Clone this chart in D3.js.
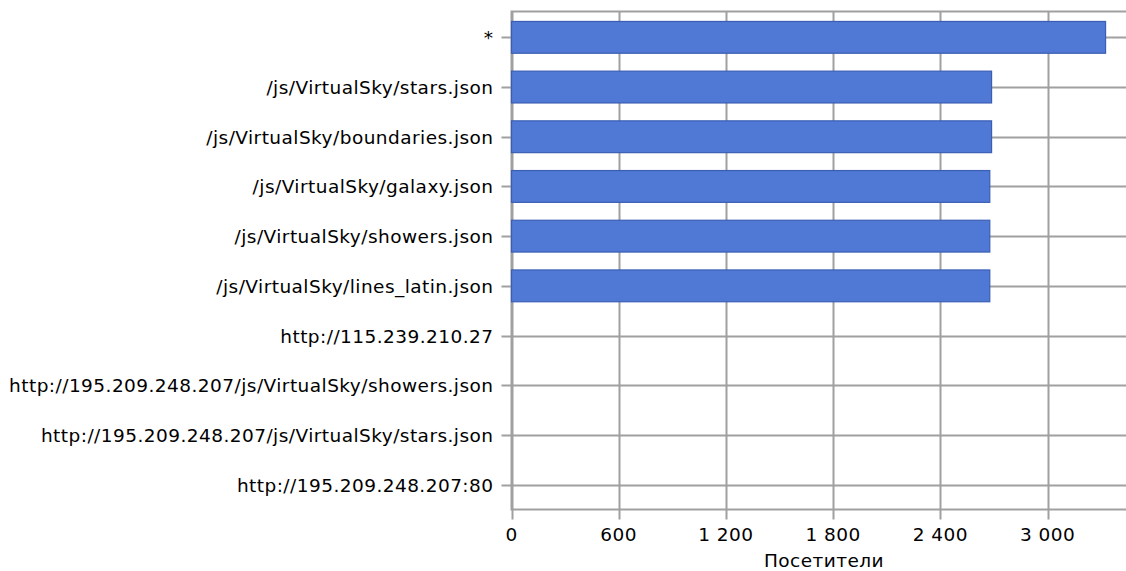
<!DOCTYPE html>
<html><head><meta charset="utf-8">
<script src="https://cdn.jsdelivr.net/npm/d3@7"></script>
<style>
body{margin:0;background:#fff;}
svg text{font-family:"DejaVu Sans",Verdana,sans-serif;fill:#000;}
</style></head>
<body><svg id="c" width="1126" height="571"></svg>
<script>
const categories = ["*","/js/VirtualSky/stars.json","/js/VirtualSky/boundaries.json","/js/VirtualSky/galaxy.json","/js/VirtualSky/showers.json","/js/VirtualSky/lines_latin.json","http://115.239.210.27","http://195.209.248.207/js/VirtualSky/showers.json","http://195.209.248.207/js/VirtualSky/stars.json","http://195.209.248.207:80"];
const values = [3325, 2687, 2687, 2677, 2677, 2677, 0, 0, 0, 0];
const xTicks = [0, 600, 1200, 1800, 2400, 3000];
const xTickLabels = ["0","600","1 200","1 800","2 400","3 000"];
const xTitle = "Посетители";

const svg = d3.select("#c");
const pLeft = 511.5, pTop = 12.5, pBottom = 509.5;
const x = d3.scaleLinear().domain([0, 3600]).range([pLeft, pLeft + 3600*107.2/600]);
const y = d3.scaleBand().domain(categories).range([pTop, pBottom]).paddingInner(0.36).paddingOuter(0.18);
const rowC = c => y(c) + y.bandwidth()/2;

svg.append("rect").attr("x", pLeft).attr("y", 11.5).attr("width", x(3600)-pLeft).attr("height", pBottom-11.5)
  .attr("fill","none").attr("stroke","#a0a0a0").attr("stroke-width",2);
svg.selectAll(".vg").data(xTicks).enter().append("line")
  .attr("x1", d=>Math.round(x(d))+0.5).attr("x2", d=>Math.round(x(d))+0.5)
  .attr("y1", 11.5).attr("y2", pBottom+10).attr("stroke","#a0a0a0").attr("stroke-width",2);
svg.selectAll(".hg").data(categories).enter().append("line")
  .attr("x1", pLeft-10).attr("x2", 1126)
  .attr("y1", d=>Math.round(rowC(d))+0.5).attr("y2", d=>Math.round(rowC(d))+0.5)
  .attr("stroke","#a0a0a0").attr("stroke-width",2);
svg.selectAll(".bar").data(categories.map((c,i)=>({c, v: values[i]})).filter(d=>d.v>0)).enter().append("rect")
  .attr("x", pLeft).attr("y", d=>y(d.c)).attr("width", d=>x(d.v)-pLeft).attr("height", y.bandwidth())
  .attr("fill","#4f79d5").attr("stroke","#3b5eb5").attr("stroke-width",1.2);
svg.selectAll(".yl").data(categories).enter().append("text")
  .attr("x", 493.5).attr("y", d=>rowC(d)+7).attr("text-anchor","end")
  .style("font-size","18.5px").style("letter-spacing","0.45px").text(d=>d);
svg.selectAll(".xl").data(xTicks).enter().append("text")
  .attr("x", d=>x(d)).attr("y", 541).attr("text-anchor","middle")
  .style("font-size","18.5px").style("letter-spacing","0.45px").text((d,i)=>xTickLabels[i]);
svg.append("text").attr("x", 824).attr("y", 567).attr("text-anchor","middle")
  .style("font-size","18.5px").style("letter-spacing","0.45px").text(xTitle);
</script></body></html>
